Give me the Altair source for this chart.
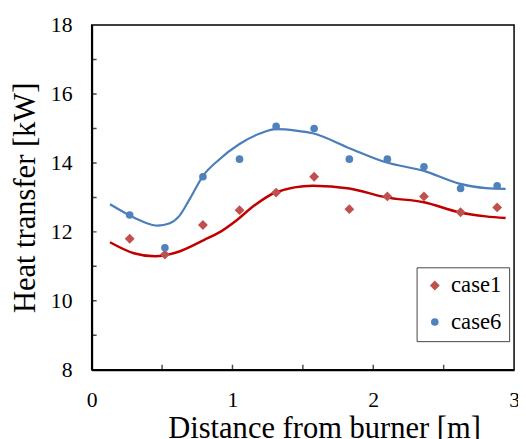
import altair as alt
import pandas as pd

# measured points
dist = [0.27, 0.52, 0.79, 1.05, 1.31, 1.58, 1.83, 2.10, 2.36, 2.62, 2.88]
case1 = [11.80, 11.34, 12.20, 12.63, 13.14, 13.60, 12.66, 13.03, 13.03, 12.57, 12.71]
case6 = [12.49, 11.54, 13.60, 14.11, 15.06, 15.00, 14.11, 14.11, 13.89, 13.26, 13.34]

# fitted curves
fit6_x = [0.13, 0.25, 0.35, 0.47, 0.55, 0.62, 0.70, 0.79, 0.90, 1.05, 1.20, 1.31, 1.45, 1.57, 1.83, 2.09, 2.36, 2.61, 2.80, 2.94]
fit6_y = [12.80, 12.52, 12.32, 12.18, 12.24, 12.45, 12.98, 13.62, 14.08, 14.55, 14.86, 14.98, 14.94, 14.86, 14.43, 14.02, 13.77, 13.40, 13.27, 13.25]
fit1_x = [0.13, 0.30, 0.45, 0.60, 0.80, 0.90, 1.03, 1.15, 1.31, 1.57, 1.83, 2.09, 2.36, 2.61, 2.80, 2.94]
fit1_y = [11.70, 11.38, 11.29, 11.40, 11.77, 11.97, 12.34, 12.75, 13.15, 13.34, 13.26, 13.00, 12.86, 12.57, 12.45, 12.40]

x_minor = [0.5, 1.0, 1.5, 2.0, 2.5]
y_minor = [9, 10, 11, 12, 13, 14, 15, 16, 17]
x_labels = [0, 1, 2, 3]
y_labels = [8, 10, 12, 14, 16, 18]

FONT = "Liberation Serif"
W, H = 429, 350

pts = pd.DataFrame({
    "x": dist + dist,
    "y": case1 + case6,
    "case": ["case1"] * len(dist) + ["case6"] * len(dist),
})
f1 = pd.DataFrame({"x": fit1_x, "y": fit1_y})
f6 = pd.DataFrame({"x": fit6_x, "y": fit6_y})

xs = alt.Scale(domain=[0, 3], nice=False, zero=False)
ys = alt.Scale(domain=[8, 18], nice=False, zero=False)

xax = alt.Axis(values=x_labels, format="d", ticks=False, tickSize=0, grid=False, labelPadding=20,
               labelFont=FONT, labelFontSize=22,
               title="Distance from burner [m]", titleFontSize=31, titlePadding=4, titleX=236)
yax = alt.Axis(values=y_labels, format="d", ticks=False, tickSize=0, grid=False, labelPadding=20,
               labelFont=FONT, labelFontSize=22,
               title="Heat transfer [kW]", titleFontSize=31, titlePadding=9)

X = lambda f: alt.X(f, scale=xs, axis=xax)
Y = lambda f: alt.Y(f, scale=ys, axis=yax)

line1 = alt.Chart(f1).mark_line(color="#C00000", strokeWidth=2.5, interpolate="monotone").encode(
    x=X("x:Q"), y=Y("y:Q"))
line6 = alt.Chart(f6).mark_line(color="#4A7EBB", strokeWidth=2.2, interpolate="monotone").encode(
    x=X("x:Q"), y=Y("y:Q"))

points = alt.Chart(pts).mark_point(filled=True, opacity=1, strokeWidth=0).encode(
    x=X("x:Q"),
    y=Y("y:Q"),
    color=alt.Color("case:N", scale=alt.Scale(domain=["case1", "case6"], range=["#C0504D", "#4F81BD"]),
                    legend=alt.Legend(orient="none", legendX=330, legendY=246, title=None,
                                      labelFont=FONT, labelFontSize=23,
                                      strokeColor="#444", fillColor="white", padding=7,
                                      rowPadding=13, symbolSize=80, labelOffset=5,
                                      symbolStrokeWidth=0, symbolOpacity=1)),
    shape=alt.Shape("case:N", scale=alt.Scale(domain=["case1", "case6"], range=["diamond", "circle"])),
    size=alt.Size("case:N", scale=alt.Scale(domain=["case1", "case6"], range=[100, 60]), legend=None),
)

ytk = alt.Chart(pd.DataFrame({"v": y_minor})).mark_tick(orient="horizontal", size=10, thickness=1.5,
                                                        color="black", clip=True).encode(
    y=Y("v:Q"), x=alt.value(0))
xtk = alt.Chart(pd.DataFrame({"v": x_minor})).mark_tick(orient="vertical", size=10, thickness=1.5,
                                                        color="black", clip=True).encode(
    x=X("v:Q"), y=alt.value(H))

chart = alt.layer(line1, line6, points, ytk, xtk).properties(
    width=W, height=H,
    autosize=alt.AutoSizeParams(type="none"),
    padding={"left": 85, "top": 14, "right": 4, "bottom": 67},
).configure(background="white", font=FONT).configure_view(stroke="black", strokeWidth=1.5).configure_axis(
    labelFont=FONT, labelFontSize=22, labelColor="black", domainColor="black", domainWidth=2,
    titleFont=FONT, titleFontWeight="normal", titleColor="black", labelFlush=False,
).configure_legend(labelFont=FONT, labelFontSize=23, labelColor="black")

chart.save("out.html", embed_options={"renderer": "svg", "actions": False})
